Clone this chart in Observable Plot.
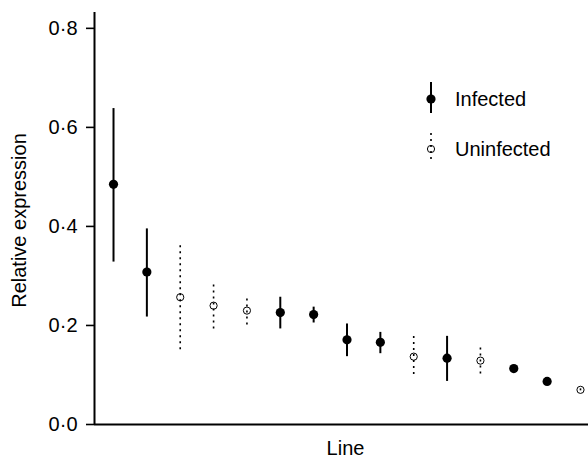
<!DOCTYPE html>
<html>
<head>
<meta charset="utf-8">
<script src="https://cdn.jsdelivr.net/npm/d3@7"></script>
<script src="https://cdn.jsdelivr.net/npm/@observablehq/plot@0.6"></script>
<style>
  html, body { margin: 0; padding: 0; background: #fff; }
  #wrap { position: relative; width: 588px; height: 460px; }
  #legend { position: absolute; left: 0; top: 0; pointer-events: none; }
</style>
</head>
<body>
<div id="wrap"></div>
<script>
// Data
const lineIndex = [1, 2, 3, 4, 5, 6, 7, 8, 9, 10, 11, 12, 13, 14, 15];
const status = ["Infected", "Infected", "Uninfected", "Uninfected", "Uninfected", "Infected", "Infected",
                "Infected", "Infected", "Uninfected", "Infected", "Uninfected", "Infected", "Infected", "Uninfected"];
const meanExpr = [0.485, 0.308, 0.257, 0.240, 0.230, 0.226, 0.222, 0.171, 0.166, 0.137, 0.134, 0.129, 0.113, 0.087, 0.070];
const lowerExpr = [0.328, 0.217, 0.151, 0.193, 0.201, 0.193, 0.205, 0.137, 0.143, 0.101, 0.087, 0.102, 0.109, 0.083, 0.068];
const upperExpr = [0.638, 0.395, 0.367, 0.290, 0.256, 0.257, 0.237, 0.203, 0.186, 0.183, 0.178, 0.160, 0.117, 0.091, 0.072];
const yTicks = [0, 0.2, 0.4, 0.6, 0.8];
const legendLabels = ["Infected", "Uninfected"];

const rows = lineIndex.map((d, i) => ({
  line: d, status: status[i], mean: meanExpr[i], lo: lowerExpr[i], hi: upperExpr[i]
}));
const inf = rows.filter(d => d.status === "Infected");
const uninf = rows.filter(d => d.status === "Uninfected");

const font = "'Liberation Sans', Arial, Helvetica, sans-serif";
const xDomain = [0.43, 15.24];

const chart = Plot.plot({
  width: 588,
  height: 460,
  marginLeft: 94,
  marginRight: 0,
  marginTop: 12,
  marginBottom: 36,
  style: { fontFamily: font, fontSize: "20px", color: "#000", background: "#fff" },
  x: { type: "linear", domain: xDomain, axis: null },
  y: { domain: [0, 0.832], axis: null },
  marks: [
    Plot.axisY({
      ticks: yTicks,
      tickSize: 8,
      tickPadding: 9,
      tickFormat: d => d.toFixed(1).replace(".", "\u00B7"),
      strokeWidth: 1.6,
      label: null,
      fontSize: 20
    }),
    Plot.ruleX([xDomain[0]], { stroke: "#000", strokeWidth: 2 }),
    Plot.ruleY([0], { stroke: "#000", strokeWidth: 2 }),
    Plot.ruleX(inf, { x: "line", y1: "lo", y2: "hi", stroke: "#000", strokeWidth: 2 }),
    Plot.ruleX(uninf, { x: "line", y1: "lo", y2: "hi", stroke: "#000", strokeWidth: 1.6, strokeDasharray: "2,4" }),
    Plot.dot(inf, { x: "line", y: "mean", r: 4.6, fill: "#000", stroke: "none" }),
    Plot.dot(uninf, { x: "line", y: "mean", r: 3.6, fill: "none", stroke: "#000", strokeWidth: 1 }),
    Plot.text(["Relative expression"], {
      frameAnchor: "left", textAnchor: "middle", lineAnchor: "middle",
      rotate: -90, dx: -75, dy: 2, fontSize: 20, fill: "#000"
    }),
    Plot.text(["Line"], {
      frameAnchor: "bottom", textAnchor: "middle", lineAnchor: "middle",
      dy: 24, dx: 4, fontSize: 20, fill: "#000"
    })
  ]
});

const wrap = document.getElementById("wrap");
wrap.appendChild(chart);

// Legend overlay
const lg = d3.select(wrap).append("svg")
  .attr("id", "legend").attr("width", 588).attr("height", 460)
  .style("font-family", font);

const items = [
  { label: legendLabels[0], cy: 99, y1: 82, y2: 113, dash: null, w: 2, filled: true },
  { label: legendLabels[1], cy: 149, y1: 133, y2: 162, dash: "2,4", w: 1.6, filled: false }
];
items.forEach(it => {
  const g = lg.append("g");
  g.append("line").attr("x1", 431).attr("x2", 431).attr("y1", it.y1).attr("y2", it.y2)
    .attr("stroke", "#000").attr("stroke-width", it.w).attr("stroke-dasharray", it.dash);
  g.append("circle").attr("cx", 431).attr("cy", it.cy).attr("r", it.filled ? 4.6 : 3.6)
    .attr("fill", it.filled ? "#000" : "none").attr("stroke", it.filled ? "none" : "#000");
  g.append("text").attr("x", 455).attr("y", it.cy).attr("dy", "0.35em")
    .attr("font-size", 20).attr("fill", "#000").text(it.label);
});
</script>
</body>
</html>
